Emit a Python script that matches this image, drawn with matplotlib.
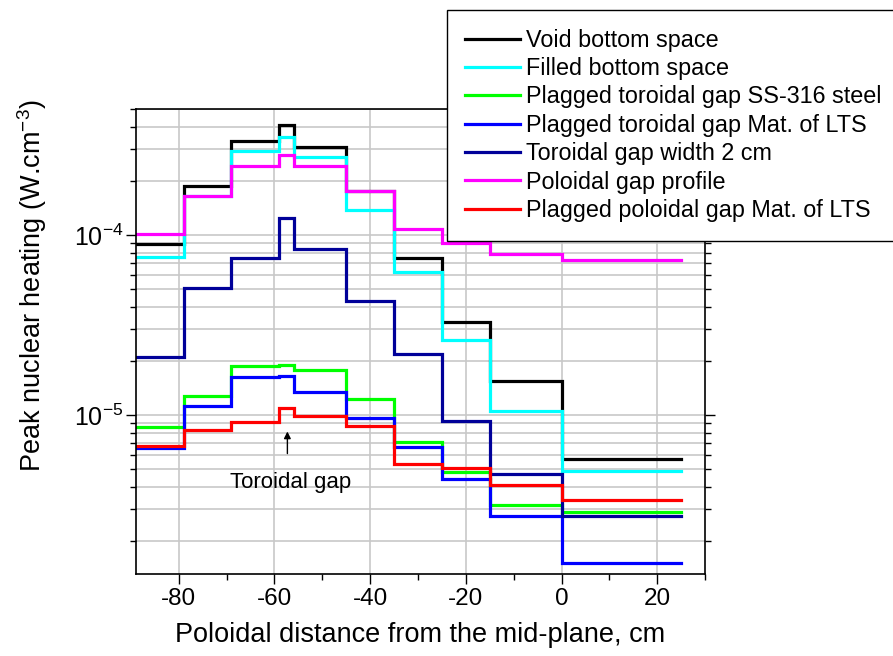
import matplotlib
matplotlib.use("Agg")
import matplotlib.pyplot as plt
from matplotlib.ticker import LogLocator, MultipleLocator, NullFormatter

plt.rcParams['font.family'] = ['Liberation Sans', 'DejaVu Sans']
plt.rcParams['mathtext.fontset'] = 'custom'
plt.rcParams['mathtext.rm'] = 'Liberation Sans'
plt.rcParams['mathtext.it'] = 'Liberation Sans:italic'
plt.rcParams['mathtext.default'] = 'regular'
plt.rcParams['axes.unicode_minus'] = False

# Bin edges (poloidal distance, cm)
edges = [-89, -79, -69, -59, -56, -45, -35, -25, -15, 0, 25]

void_bottom = [8.9e-5, 1.87e-4, 3.33e-4, 4.08e-4, 3.09e-4, 1.76e-4, 7.5e-5, 3.27e-5, 1.55e-5, 5.67e-6]
filled_bottom = [7.6e-5, 1.64e-4, 2.94e-4, 3.49e-4, 2.70e-4, 1.38e-4, 6.2e-5, 2.63e-5, 1.05e-5, 4.88e-6]
plug_ss316 = [8.6e-6, 1.28e-5, 1.88e-5, 1.90e-5, 1.78e-5, 1.23e-5, 7.12e-6, 4.85e-6, 3.16e-6, 2.90e-6]
plug_tor_lts = [6.54e-6, 1.12e-5, 1.62e-5, 1.65e-5, 1.34e-5, 9.58e-6, 6.62e-6, 4.44e-6, 2.75e-6, 1.50e-6]
tor_gap_2cm = [2.09e-5, 5.06e-5, 7.42e-5, 1.25e-4, 8.33e-5, 4.3e-5, 2.18e-5, 9.3e-6, 4.72e-6, 2.75e-6]
pol_gap = [1.02e-4, 1.64e-4, 2.42e-4, 2.78e-4, 2.42e-4, 1.76e-4, 1.076e-4, 9.06e-5, 7.9e-5, 7.3e-5]
plug_pol_lts = [6.76e-6, 8.25e-6, 9.18e-6, 1.10e-5, 9.91e-6, 8.72e-6, 5.38e-6, 5.08e-6, 4.08e-6, 3.37e-6]

labels = ["Void bottom space", "Filled bottom space", "Plagged toroidal gap SS-316 steel",
          "Plagged toroidal gap Mat. of LTS", "Toroidal gap width 2 cm",
          "Poloidal gap profile", "Plagged poloidal gap Mat. of LTS"]
series = [void_bottom, filled_bottom, plug_ss316, plug_tor_lts, tor_gap_2cm, pol_gap, plug_pol_lts]
colors = ["#000000", "#00FFFF", "#00FF00", "#0000FF", "#000099", "#FF00FF", "#FF0000"]

fig = plt.figure(figsize=(8.93, 6.56), dpi=100)
ax = fig.add_axes([0.152, 0.125, 0.6375, 0.7084])

for vals, lab, c in zip(series, labels, colors):
    ax.step(edges, list(vals) + [vals[-1]], where='post', color=c, lw=2.3, label=lab,
            solid_joinstyle='miter')

ax.set_yscale('log')
ax.set_xlim(-89, 30)
ax.set_ylim(1.31e-6, 5e-4)

ax.xaxis.set_major_locator(MultipleLocator(20))
ax.xaxis.set_minor_locator(MultipleLocator(10))
ax.yaxis.set_major_locator(LogLocator(base=10, numticks=10))
ax.yaxis.set_minor_locator(LogLocator(base=10, subs=range(2, 10), numticks=20))
ax.yaxis.set_minor_formatter(NullFormatter())

ax.grid(True, which='major', axis='x', color='#c8c8c8', lw=1.2)
ax.grid(True, which='both', axis='y', color='#c8c8c8', lw=1.2)
ax.set_axisbelow(True)

ax.tick_params(which='both', direction='out', width=1.0, top=False, right=True)
ax.tick_params(axis='x', labelsize=17.5, pad=3)
ax.tick_params(axis='y', labelsize=18, pad=2)
ax.tick_params(which='major', length=7)
ax.tick_params(which='minor', length=4)
for s in ax.spines.values():
    s.set_linewidth(1.2)

ax.set_xlabel("Poloidal distance from the mid-plane, cm", fontsize=19.5, labelpad=9)
ax.set_ylabel("Peak nuclear heating (W.cm$^{-3}$)", fontsize=19.5)
ax.yaxis.set_label_coords(-0.152, 0.62)

ax.annotate("", xy=(-57.3, 8.4e-6), xytext=(-57.3, 5.9e-6),
            arrowprops=dict(arrowstyle='-|>', color='black', lw=1.0, mutation_scale=10))
ax.text(-56.7, 4.2e-6, "Toroidal gap", fontsize=16, ha='center', va='center')

leg = fig.legend(loc='upper left', bbox_to_anchor=(446.7 / 893, 1 - 10 / 656),
                 fontsize=16.8, frameon=True, fancybox=False, framealpha=1,
                 edgecolor='black', handlelength=2.32, handletextpad=0.3,
                 labelspacing=0.23, borderpad=0.8, borderaxespad=0)
leg.get_frame().set_linewidth(1.0)
for line in leg.get_lines():
    line.set_linewidth(2.3)

fig.savefig("out.png", dpi=100)
